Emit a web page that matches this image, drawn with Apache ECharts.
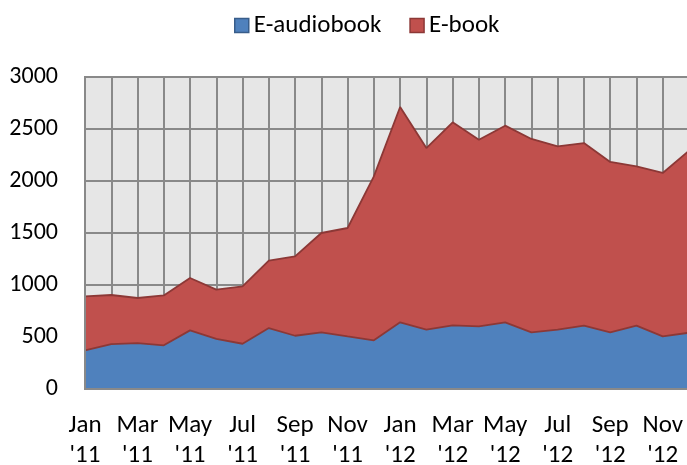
<!DOCTYPE html>
<html>
<head>
<meta charset="utf-8">
<script src="https://cdn.jsdelivr.net/npm/echarts@6/dist/echarts.min.js"></script>
<style>
html,body{margin:0;padding:0;background:#fff;}
#chart{width:687px;height:465px;}
</style>
</head>
<body>
<div id="chart"></div>
<script>
var categories = ["Jan\n'11","Feb\n'11","Mar\n'11","Apr\n'11","May\n'11","Jun\n'11","Jul\n'11","Aug\n'11","Sep\n'11","Oct\n'11","Nov\n'11","Dec\n'11",
                  "Jan\n'12","Feb\n'12","Mar\n'12","Apr\n'12","May\n'12","Jun\n'12","Jul\n'12","Aug\n'12","Sep\n'12","Oct\n'12","Nov\n'12","Dec\n'12"];
var eAudiobook = [371, 432, 442, 420, 564, 481, 435, 586, 512, 545, 505, 468, 641, 570, 612, 602, 641, 545, 570, 609, 545, 609, 506, 541];
var eBook = [519, 472, 433, 480, 503, 474, 552, 648, 763, 955, 1043, 1576, 2070, 1747, 1952, 1795, 1891, 1859, 1763, 1756, 1638, 1532, 1571, 1750];
var yTicks = [0, 500, 1000, 1500, 2000, 2500, 3000];

var FONT = "Carlito, Lato, 'Open Sans', sans-serif";
var chart = echarts.init(document.getElementById('chart'), null, {renderer: 'canvas'});
var gridGray = '#898989';
var yMin = yTicks[0], yMax = yTicks[yTicks.length - 1];
chart.setOption({
  animation: false,
  backgroundColor: '#ffffff',
  textStyle: {fontFamily: FONT},
  legend: {
    left: 229, top: 8,
    icon: 'rect',
    itemWidth: 14, itemHeight: 14, itemGap: 28,
    textStyle: {fontFamily: FONT, fontSize: 25, color: '#000'},
    data: [
      {name: 'E-audiobook', itemStyle: {color: '#4f81bd', borderColor: '#385d8a', borderWidth: 1.5}},
      {name: 'E-book', itemStyle: {color: '#c0504d', borderColor: '#8c3836', borderWidth: 1.5}}
    ]
  },
  grid: {
    left: 85, right: -2, top: 77, bottom: 76,
    containLabel: false,
    outerBoundsMode: 'none',
    show: true, backgroundColor: '#e6e6e6', borderColor: gridGray, borderWidth: 2
  },
  xAxis: [{
    type: 'category',
    data: categories,
    boundaryGap: false,
    axisLine: {show: false},
    axisTick: {show: false},
    splitLine: {show: true, interval: 0, lineStyle: {color: gridGray, width: 2}},
    axisLabel: {interval: 1, fontFamily: FONT, fontSize: 25, color: '#000', lineHeight: 30, margin: 22}
  }, {
    type: 'category',
    data: categories,
    boundaryGap: false,
    position: 'bottom',
    z: 10,
    axisLine: {show: true, lineStyle: {color: gridGray, width: 2}},
    axisTick: {show: false},
    axisLabel: {show: false},
    splitLine: {show: false}
  }],
  yAxis: [{
    type: 'value',
    min: yMin, max: yMax, interval: 500,
    axisLine: {show: false},
    axisTick: {show: false},
    splitLine: {show: true, lineStyle: {color: gridGray, width: 2}},
    axisLabel: {fontFamily: FONT, fontSize: 24, color: '#000', margin: 27,
      formatter: function (v) { return String(v); }}
  }, {
    type: 'value',
    min: yMin, max: yMax, interval: 500,
    position: 'left',
    z: 10,
    axisLine: {show: true, lineStyle: {color: gridGray, width: 2}},
    axisTick: {show: false},
    axisLabel: {show: false},
    splitLine: {show: false}
  }],
  series: [{
    name: 'E-audiobook',
    type: 'line',
    stack: 'total',
    symbol: 'none',
    data: eAudiobook,
    itemStyle: {color: '#4f81bd'},
    lineStyle: {color: '#8c3836', width: 1.8},
    areaStyle: {color: '#4f81bd', opacity: 1}
  }, {
    name: 'E-book',
    type: 'line',
    stack: 'total',
    symbol: 'none',
    data: eBook,
    itemStyle: {color: '#c0504d'},
    lineStyle: {color: '#8c3836', width: 1.8},
    areaStyle: {color: '#c0504d', opacity: 1}
  }]
});
</script>
</body>
</html>
